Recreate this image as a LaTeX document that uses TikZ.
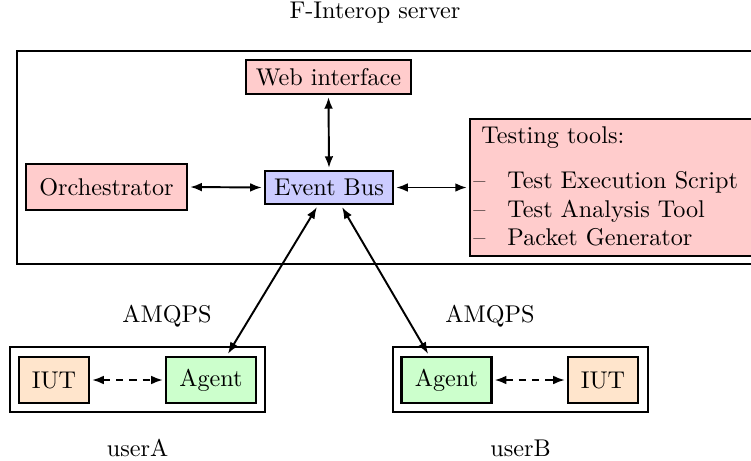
\documentclass[tikz,border=0pt]{standalone}
\usetikzlibrary{arrows.meta}
\begin{document}
\begin{tikzpicture}[x=0.413pt,y=-0.413pt,
  box/.style={draw,line width=0.9pt,inner sep=0pt,outer sep=1.3pt,font=\normalsize},
  redbox/.style={box,fill=red!20},
  bluebox/.style={box,fill=blue!20},
  greenbox/.style={box,fill=green!20},
  orangebox/.style={box,fill=orange!20},
  frame/.style={draw,line width=0.9pt,inner sep=0pt},
  conn/.style={line width=0.8pt,{Latex[length=4.8pt,width=3.6pt]}-{Latex[length=4.8pt,width=3.6pt]}},
  dconn/.style={conn,dash pattern=on 3pt off 2.5pt},
  lbl/.style={inner sep=0pt}
]
\useasboundingbox (0,0) rectangle (751,460);
\clip (0,0) rectangle (751,460);

% server frame and title
\node[frame,minimum width=319.2pt,minimum height=88pt] (server) at (403.5,157.5) {};
\node[lbl] (title) at (375,13) {F-Interop server};

% server components
\node[redbox,minimum width=68.1pt,minimum height=14pt] (web) at (328.5,77) {Web interface};
\node[redbox,minimum width=66.5pt,minimum height=19pt] (orch) at (106.5,187) {Orchestrator};
\node[bluebox,minimum width=52.9pt,minimum height=13.6pt] (eb) at (329,187.5) {Event Bus};
\node[redbox,minimum width=128pt,minimum height=56.6pt] (tools) at (625,187.5) {};
\node[lbl,anchor=base west] (tt) at (481,143) {Testing tools:};
\node[lbl,anchor=base west] (d1) at (473,188) {--};
\node[lbl,anchor=base west] (i1) at (507,188) {Test Execution Script};
\node[lbl,anchor=base west] (d2) at (473,217) {--};
\node[lbl,anchor=base west] (i2) at (507,217) {Test Analysis Tool};
\node[lbl,anchor=base west] (d3) at (473,245.5) {--};
\node[lbl,anchor=base west] (i3) at (507,245.5) {Packet Generator};

% user A
\node[frame,minimum width=105.3pt,minimum height=26.8pt] (userAbox) at (137.5,379.5) {};
\node[orangebox,minimum width=28.9pt,minimum height=19pt] (iutA) at (54,380) {IUT};
\node[greenbox,minimum width=37.2pt,minimum height=19pt] (agentA) at (211,380) {Agent};
\node[lbl] (userA) at (137.5,448) {userA};
\node[lbl] (amqpsA) at (167,316) {AMQPS};

% user B
\node[frame,minimum width=105.3pt,minimum height=26.8pt] (userBbox) at (520.5,379.5) {};
\node[greenbox,minimum width=37.2pt,minimum height=19pt] (agentB) at (446.5,380) {Agent};
\node[orangebox,minimum width=28.9pt,minimum height=19pt] (iutB) at (603,380) {IUT};
\node[lbl] (userB) at (520.5,448) {userB};
\node[lbl] (amqpsB) at (490,316) {AMQPS};

% connectors
\draw[conn] (web.south) -- (eb.north);
\draw[conn] (orch.east) -- (eb.west);
\draw[conn] (eb.east) -- (tools.west);
\draw[conn] ([xshift=-5pt]eb.south) -- ([xshift=7pt]agentA.north);
\draw[conn] ([xshift=5.4pt]eb.south) -- ([xshift=-7.6pt]agentB.north);
\draw[dconn] (iutA.east) -- (agentA.west);
\draw[dconn] (agentB.east) -- (iutB.west);
\end{tikzpicture}
\end{document}
